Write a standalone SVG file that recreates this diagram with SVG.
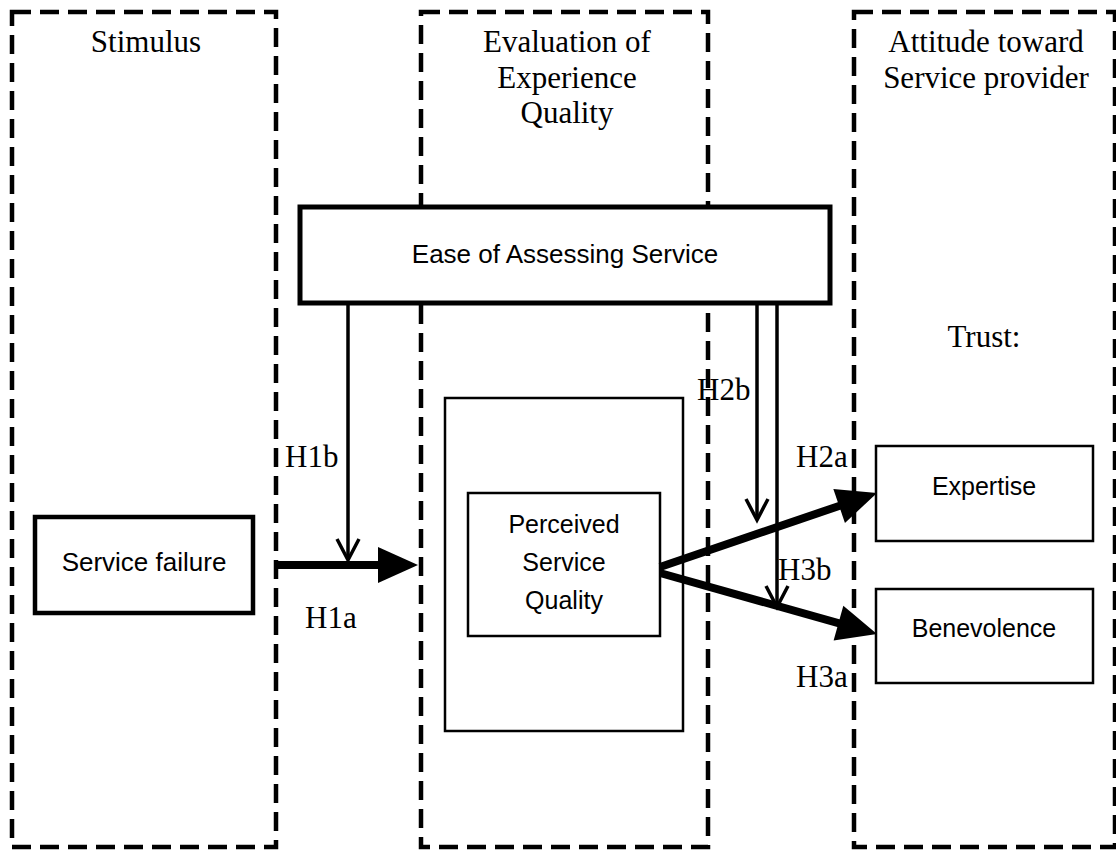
<svg xmlns="http://www.w3.org/2000/svg" width="1116" height="851" viewBox="0 0 1116 851">
<defs>
<style>
.col{fill:none;stroke:#000;stroke-width:4.5;stroke-dasharray:19 9}
.serif{font-family:"Liberation Serif","Times New Roman",serif;font-size:31px;fill:#000}
.sans{font-family:"Liberation Sans",Arial,sans-serif;font-size:25px;fill:#000}
.box{fill:#fff;stroke:#000;stroke-width:2.5}
.thick{fill:#fff;stroke:#000;stroke-width:5}
.bold{fill:none;stroke:#000;stroke-width:8}
.thin{fill:none;stroke:#000;stroke-width:3.5}
</style>
<marker id="big" markerUnits="userSpaceOnUse" markerWidth="42" markerHeight="38" refX="10" refY="18" orient="auto" overflow="visible">
<path d="M0,0 L40,18 L0,36 z" fill="#000"/>
</marker>
<marker id="vee" markerUnits="userSpaceOnUse" markerWidth="28" markerHeight="28" refX="22" refY="12" orient="auto" overflow="visible">
<path d="M1,1 L22,12 L1,23" fill="none" stroke="#000" stroke-width="3.5"/>
</marker>
</defs>
<rect width="1116" height="851" fill="#fff"/>
<g id="col-stimulus">
<rect class="col" x="12" y="12" width="264" height="835"/>
<text class="serif" x="146" y="52" text-anchor="middle">Stimulus</text>
</g>
<g id="col-evaluation">
<rect class="col" x="421" y="12" width="287" height="835"/>
<text class="serif" text-anchor="middle"><tspan x="567" y="52">Evaluation of</tspan><tspan x="567" y="88">Experience</tspan><tspan x="567" y="123">Quality</tspan></text>
</g>
<g id="col-attitude">
<rect class="col" x="854" y="12" width="261" height="835"/>
<text class="serif" text-anchor="middle"><tspan x="986" y="52">Attitude toward</tspan><tspan x="986" y="88">Service provider</tspan></text>
<text class="serif" x="984" y="347" text-anchor="middle">Trust:</text>
</g>
<g id="ease">
<rect class="thick" x="300" y="207" width="530" height="96"/>
<text class="sans" x="565" y="263" text-anchor="middle" style="font-size:26px">Ease of Assessing Service</text>
</g>
<g id="service-failure">
<rect class="box" style="stroke-width:4.5" x="35" y="517" width="218" height="96"/>
<text class="sans" x="144" y="571" text-anchor="middle" style="font-size:26px">Service failure</text>
</g>
<g id="perceived">
<rect class="box" x="445" y="398" width="238" height="333"/>
<rect class="box" x="468" y="493" width="192" height="143"/>
<text class="sans" text-anchor="middle"><tspan x="564" y="533">Perceived</tspan><tspan x="564" y="571">Service</tspan><tspan x="564" y="609">Quality</tspan></text>
</g>
<g id="expertise">
<rect class="box" x="876" y="446" width="217" height="95"/>
<text class="sans" x="984" y="495" text-anchor="middle">Expertise</text>
</g>
<g id="benevolence">
<rect class="box" x="876" y="589" width="217" height="94"/>
<text class="sans" x="984" y="637" text-anchor="middle">Benevolence</text>
</g>
<g id="connectors">
<line class="bold" x1="277" y1="565" x2="388" y2="565" marker-end="url(#big)"/>
<line class="thin" x1="348" y1="303" x2="348" y2="560" marker-end="url(#vee)"/>
<line class="bold" x1="660" y1="567" x2="848.6" y2="502.7" marker-end="url(#big)"/>
<line class="bold" x1="660" y1="573" x2="848.1" y2="625.9" marker-end="url(#big)"/>
<line class="thin" x1="757" y1="303" x2="757" y2="520" marker-end="url(#vee)"/>
<line class="thin" x1="777" y1="303" x2="777" y2="607" marker-end="url(#vee)"/>
</g>
<g id="labels">
<text class="serif" x="285" y="467">H1b</text>
<text class="serif" x="305" y="628">H1a</text>
<text class="serif" x="697" y="400">H2b</text>
<text class="serif" x="796" y="467">H2a</text>
<text class="serif" x="778" y="580">H3b</text>
<text class="serif" x="796" y="687">H3a</text>
</g>
</svg>
